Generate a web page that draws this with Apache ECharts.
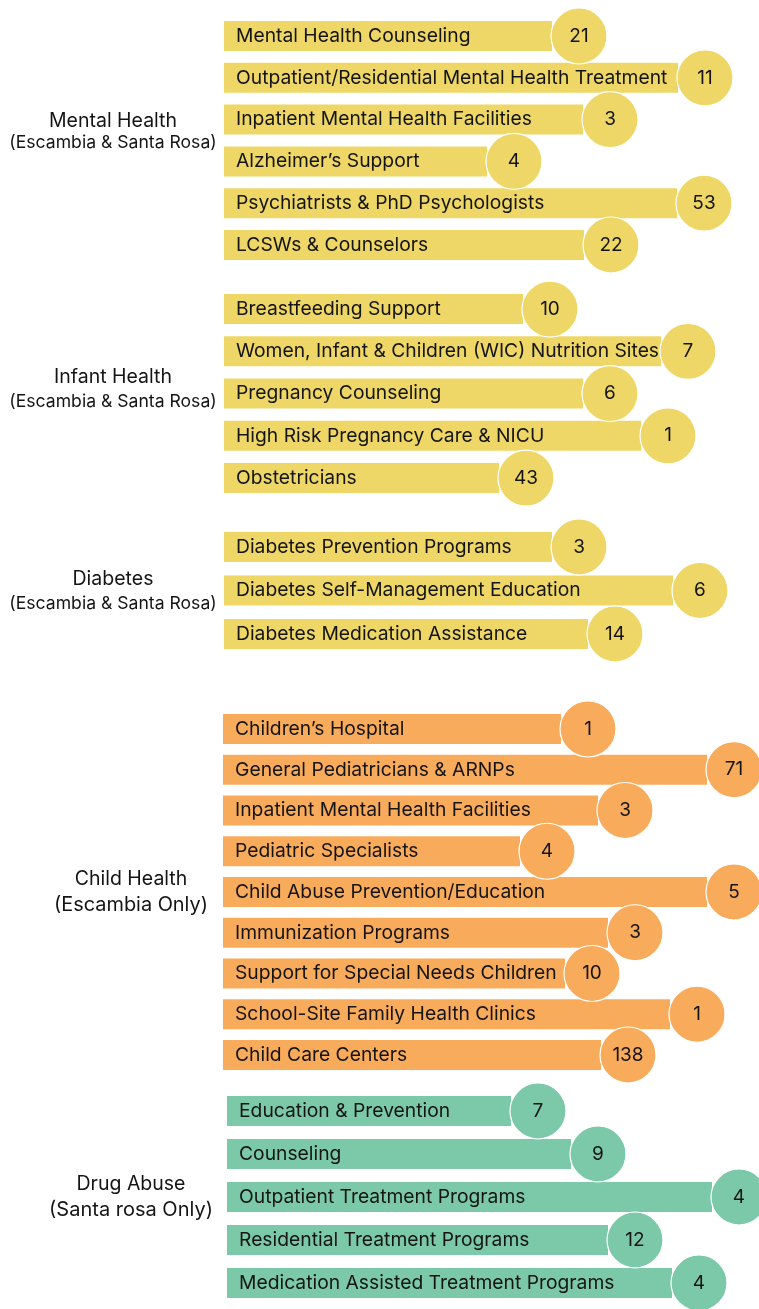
<!DOCTYPE html>
<html>
<head>
<meta charset="utf-8">
<title>Community Health Resources</title>
<script src="https://cdn.jsdelivr.net/npm/echarts@6/dist/echarts.min.js"></script>
<style>
  html, body { margin: 0; padding: 0; background: #ffffff; }
  #chart { width: 759px; height: 1309px; }
</style>
</head>
<body>
<div id="chart"></div>
<script>
// ---- Data -------------------------------------------------------------
const groupTitles = ['Mental Health', 'Infant Health', 'Diabetes', 'Child Health', 'Drug Abuse'];
const groupSubtitles = [
  '(Escambia & Santa Rosa)',
  '(Escambia & Santa Rosa)',
  '(Escambia & Santa Rosa)',
  '(Escambia Only)',
  '(Santa rosa Only)'
];

const mentalHealthCategories = [
  'Mental Health Counseling',
  'Outpatient/Residential Mental Health Treatment',
  'Inpatient Mental Health Facilities',
  'Alzheimer\u2019s Support',
  'Psychiatrists & PhD Psychologists',
  'LCSWs & Counselors'
];
const mentalHealthCounts = [21, 11, 3, 4, 53, 22];
const mentalHealthBarLengths = [328, 454, 359, 263, 453, 360];

const infantHealthCategories = [
  'Breastfeeding Support',
  'Women, Infant & Children (WIC) Nutrition Sites',
  'Pregnancy Counseling',
  'High Risk Pregnancy Care & NICU',
  'Obstetricians'
];
const infantHealthCounts = [10, 7, 6, 1, 43];
const infantHealthBarLengths = [299, 437, 359, 417, 275];

const diabetesCategories = [
  'Diabetes Prevention Programs',
  'Diabetes Self-Management Education',
  'Diabetes Medication Assistance'
];
const diabetesCounts = [3, 6, 14];
const diabetesBarLengths = [328, 449, 364];

const childHealthCategories = [
  'Children\u2019s Hospital',
  'General Pediatricians & ARNPs',
  'Inpatient Mental Health Facilities',
  'Pediatric Specialists',
  'Child Abuse Prevention/Education',
  'Immunization Programs',
  'Support for Special Needs Children',
  'School-Site Family Health Clinics',
  'Child Care Centers'
];
const childHealthCounts = [1, 71, 3, 4, 5, 3, 10, 1, 138];
const childHealthBarLengths = [338, 484, 375, 297, 484, 385, 342, 447, 378];

const drugAbuseCategories = [
  'Education & Prevention',
  'Counseling',
  'Outpatient Treatment Programs',
  'Residential Treatment Programs',
  'Medication Assisted Treatment Programs'
];
const drugAbuseCounts = [7, 9, 4, 12, 4];
const drugAbuseBarLengths = [284, 344, 485, 381, 445];

// ---- Layout & style ---------------------------------------------------
const WIDTH = 759;
const FONT = 'Inter';
const TEXT_COLOR = '#141414';
const YELLOW = '#EED767';
const ORANGE = '#F9AB5C';
const GREEN = '#7BC9A9';
const BAR_WIDTH = 30;
const BUBBLE = 56;

const groups = [
  { cats: mentalHealthCategories, counts: mentalHealthCounts, lens: mentalHealthBarLengths,
    color: YELLOW, left: 224, top: 15.1, height: 250.8,
    titleX: 113, titleY: 121, subY: 143, subSize: 17.6 },
  { cats: infantHealthCategories, counts: infantHealthCounts, lens: infantHealthBarLengths,
    color: YELLOW, left: 224, top: 287.9, height: 211.25,
    titleX: 113, titleY: 377, subY: 402, subSize: 17.6 },
  { cats: diabetesCategories, counts: diabetesCounts, lens: diabetesBarLengths,
    color: YELLOW, left: 224, top: 525.25, height: 130.5,
    titleX: 113, titleY: 579, subY: 604, subSize: 17.6 },
  { cats: childHealthCategories, counts: childHealthCounts, lens: childHealthBarLengths,
    color: ORANGE, left: 223, top: 708.6, height: 366.75,
    titleX: 131, titleY: 879, subY: 905, subSize: 19.9 },
  { cats: drugAbuseCategories, counts: drugAbuseCounts, lens: drugAbuseBarLengths,
    color: GREEN, left: 227, top: 1089.5, height: 215,
    titleX: 131, titleY: 1184, subY: 1210, subSize: 20 }
];

const grid = [], xAxis = [], yAxis = [], series = [], graphic = [];

groups.forEach((g, i) => {
  grid.push({ left: g.left, top: g.top, width: WIDTH - g.left, height: g.height, containLabel: false });
  xAxis.push({ type: 'value', gridIndex: i, min: 0, max: WIDTH - g.left, show: false });
  yAxis.push({ type: 'category', gridIndex: i, data: g.cats, inverse: true, show: false });

  // Label bars
  series.push({
    type: 'bar',
    xAxisIndex: i, yAxisIndex: i,
    z: 2,
    barWidth: BAR_WIDTH,
    silent: true,
    itemStyle: { color: g.color, opacity: 1 },
    label: {
      show: true,
      position: 'insideLeft',
      distance: 12,
      formatter: '{b}',
      color: TEXT_COLOR,
      fontFamily: FONT,
      fontSize: 19.3
    },
    data: g.lens
  });

  // Count bubbles at the end of each bar
  series.push({
    type: 'scatter',
    xAxisIndex: i, yAxisIndex: i,
    z: 3,
    clip: false,
    silent: true,
    symbol: 'circle',
    symbolSize: BUBBLE,
    symbolOffset: [27, 0],
    itemStyle: { color: g.color, opacity: 1, borderColor: '#ffffff', borderWidth: 1.2 },
    label: {
      show: true,
      position: 'inside',
      formatter: p => String(g.counts[p.dataIndex]),
      color: TEXT_COLOR,
      opacity: 1,
      fontFamily: FONT,
      fontSize: 19
    },
    data: g.lens.map((v, k) => [v, k])
  });

  // Group headings
  graphic.push({
    type: 'text', x: g.titleX, y: g.titleY, silent: true,
    style: { text: groupTitles[i], fill: TEXT_COLOR, font: '19.5px ' + FONT, align: 'center', verticalAlign: 'middle' }
  });
  graphic.push({
    type: 'text', x: g.titleX, y: g.subY, silent: true,
    style: { text: groupSubtitles[i], fill: TEXT_COLOR, font: g.subSize + 'px ' + FONT, align: 'center', verticalAlign: 'middle' }
  });
});

const chart = echarts.init(document.getElementById('chart'), null, { renderer: 'canvas' });
chart.setOption({
  animation: false,
  backgroundColor: '#ffffff',
  grid, xAxis, yAxis, series, graphic
});
</script>
</body>
</html>
